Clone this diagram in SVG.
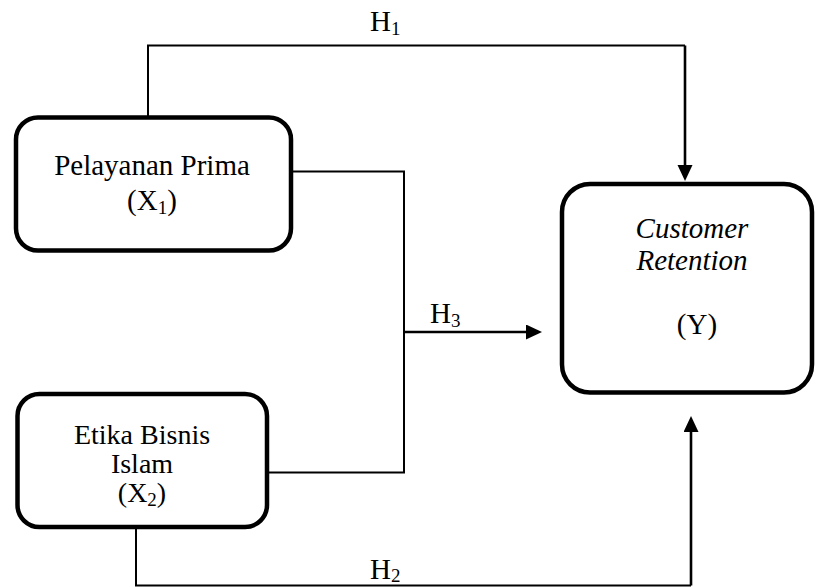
<svg xmlns="http://www.w3.org/2000/svg" width="816" height="587" viewBox="0 0 816 587">
<style>
.box{fill:#fff;stroke:#000;stroke-width:4.5}
.ln{fill:none;stroke:#000;stroke-width:2}
.ar{fill:none;stroke:#000;stroke-width:2.6}
text{font-family:"Liberation Serif","Times New Roman",serif;font-size:29px;fill:#000}
.c{text-anchor:middle}
.it{font-style:italic}
.sub{font-size:19px}
.t2{font-size:28px}
</style>
<defs>
<marker id="ah" markerUnits="userSpaceOnUse" markerWidth="18" markerHeight="16" refX="2" refY="7.5" orient="auto">
<path d="M0,0 L16,7.5 L0,15 z" fill="#000"/>
</marker>
</defs>
<g id="connectors">
<path class="ln" d="M148,117 V45.5 H685"/>
<path class="ar" d="M685,45.5 V167" marker-end="url(#ah)"/>
<path class="ln" d="M291,171.5 H404 V472.5 H267"/>
<path class="ar" d="M404,332 H528" marker-end="url(#ah)"/>
<path class="ln" d="M136,527 V585.5 H691"/>
<path class="ar" d="M691,585.5 V430" marker-end="url(#ah)"/>
<text x="370" y="31">H<tspan class="sub" dy="4">1</tspan></text>
<text x="430" y="323">H<tspan class="sub" dy="4">3</tspan></text>
<text x="370" y="579">H<tspan class="sub" dy="3">2</tspan></text>
</g>
<g id="x1">
<rect class="box" x="16" y="117.5" width="275" height="133" rx="22"/>
<text class="c" x="152" y="175">Pelayanan Prima</text>
<text class="c" x="152" y="210">(X<tspan class="sub" dy="4">1</tspan><tspan dy="-4">)</tspan></text>
</g>
<g id="x2">
<rect class="box" x="17.5" y="394" width="249.5" height="133" rx="22"/>
<text class="c t2" x="142" y="444">Etika Bisnis</text>
<text class="c t2" x="142" y="473">Islam</text>
<text class="c t2" x="142" y="502">(X<tspan class="sub" dy="4">2</tspan><tspan dy="-4">)</tspan></text>
</g>
<g id="y">
<rect class="box" x="562" y="184" width="250" height="208.5" rx="28"/>
<text class="c it" x="692" y="238">Customer</text>
<text class="c it" x="692" y="270">Retention</text>
<text class="c" x="697" y="334">(Y)</text>
</g>
</svg>
